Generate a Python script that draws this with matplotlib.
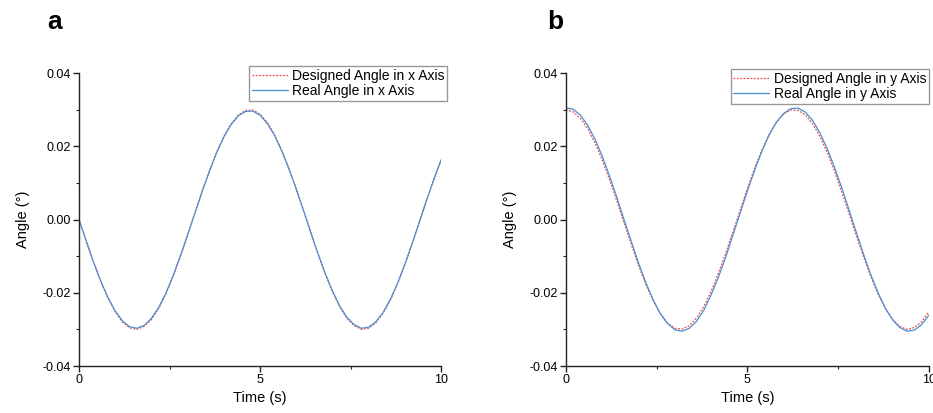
import matplotlib
matplotlib.use("Agg")
import matplotlib.pyplot as plt
from matplotlib.ticker import MultipleLocator, FormatStrFormatter

plt.rcParams['font.family'] = ['Liberation Sans', 'DejaVu Sans']
plt.rcParams['axes.unicode_minus'] = False

# time samples (s)
time = [0.0, 0.2, 0.4, 0.6, 0.8, 1.0, 1.2, 1.4, 1.6, 1.8, 2.0, 2.2, 2.4, 2.6, 2.8,
        3.0, 3.2, 3.4, 3.6, 3.8, 4.0, 4.2, 4.4, 4.6, 4.8, 5.0, 5.2, 5.4, 5.6, 5.8,
        6.0, 6.2, 6.4, 6.6, 6.8, 7.0, 7.2, 7.4, 7.6, 7.8, 8.0, 8.2, 8.4, 8.6, 8.8,
        9.0, 9.2, 9.4, 9.6, 9.8, 10.0]

# panel a: x axis angle
designed_x = [0.0, -0.0060, -0.0117, -0.0169, -0.0215, -0.0252, -0.0280, -0.0296,
              -0.0300, -0.0292, -0.0273, -0.0243, -0.0203, -0.0155, -0.0101, -0.0042,
              0.0018, 0.0077, 0.0133, 0.0184, 0.0227, 0.0261, 0.0285, 0.0298, 0.0299,
              0.0288, 0.0265, 0.0232, 0.0189, 0.0139, 0.0084, 0.0025, -0.0035, -0.0093,
              -0.0148, -0.0197, -0.0238, -0.0270, -0.0290, -0.0300, -0.0297, -0.0282,
              -0.0256, -0.0220, -0.0175, -0.0124, -0.0067, -0.0007, 0.0052, 0.0110,
              0.0163]
real_x = [0.0, -0.0059, -0.0116, -0.0168, -0.0213, -0.0250, -0.0277, -0.0293,
          -0.0297, -0.0289, -0.0270, -0.0240, -0.0201, -0.0153, -0.0099, -0.0042,
          0.0017, 0.0076, 0.0131, 0.0182, 0.0225, 0.0259, 0.0283, 0.0295, 0.0296,
          0.0285, 0.0262, 0.0230, 0.0187, 0.0138, 0.0083, 0.0025, -0.0035, -0.0093,
          -0.0147, -0.0195, -0.0236, -0.0267, -0.0287, -0.0297, -0.0294, -0.0279,
          -0.0254, -0.0218, -0.0174, -0.0122, -0.0066, -0.0007, 0.0052, 0.0109,
          0.0162]

# panel b: y axis angle
designed_y = [0.0300, 0.0294, 0.0276, 0.0248, 0.0209, 0.0162, 0.0109, 0.0051,
              -0.0009, -0.0068, -0.0125, -0.0177, -0.0221, -0.0257, -0.0283, -0.0297,
              -0.0299, -0.0290, -0.0269, -0.0237, -0.0196, -0.0147, -0.0092, -0.0034,
              0.0026, 0.0085, 0.0141, 0.0190, 0.0233, 0.0266, 0.0288, 0.0299, 0.0298,
              0.0285, 0.0261, 0.0226, 0.0183, 0.0132, 0.0075, 0.0016, -0.0044, -0.0102,
              -0.0156, -0.0204, -0.0243, -0.0273, -0.0292, -0.0300, -0.0295, -0.0279,
              -0.0252]
real_y = [0.0305, 0.0301, 0.0285, 0.0257, 0.0219, 0.0173, 0.0119, 0.0061,
          0.0000, -0.0060, -0.0119, -0.0172, -0.0219, -0.0257, -0.0284, -0.0301,
          -0.0305, -0.0297, -0.0278, -0.0247, -0.0206, -0.0158, -0.0103, -0.0043,
          0.0018, 0.0078, 0.0135, 0.0187, 0.0231, 0.0266, 0.0290, 0.0303, 0.0304,
          0.0293, 0.0270, 0.0236, 0.0193, 0.0142, 0.0086, 0.0026, -0.0035, -0.0095,
          -0.0151, -0.0200, -0.0242, -0.0274, -0.0295, -0.0305, -0.0302, -0.0287,
          -0.0261]

panels = [
    ('a', designed_x, real_x, 'Designed Angle in x Axis', 'Real Angle in x Axis'),
    ('b', designed_y, real_y, 'Designed Angle in y Axis', 'Real Angle in y Axis'),
]
axes_pos = [[0.0847, 0.1138, 0.388, 0.7094], [0.6066, 0.1138, 0.389, 0.7094]]
legend_anchor = [(1.017, 1.024), (1.0, 1.014)]
letter_x = [0.051, 0.587]

fig = plt.figure(figsize=(9.33, 4.13), dpi=100)

for i, (letter, des, real, lab_d, lab_r) in enumerate(panels):
    ax = fig.add_axes(axes_pos[i])
    ax.plot(time, des, color='#f24a4a', linestyle=(0, (1.5, 1.2)), linewidth=0.9, label=lab_d)
    ax.plot(time, real, color='#4a8fd4', linestyle='-', linewidth=0.9, label=lab_r)
    ax.set_xlim(0, 10)
    ax.set_ylim(-0.04, 0.04)
    ax.xaxis.set_major_locator(MultipleLocator(5))
    ax.xaxis.set_minor_locator(MultipleLocator(2.5))
    ax.yaxis.set_major_locator(MultipleLocator(0.02))
    ax.yaxis.set_minor_locator(MultipleLocator(0.01))
    ax.yaxis.set_major_formatter(FormatStrFormatter('%.2f'))
    ax.xaxis.set_major_formatter(FormatStrFormatter('%d'))
    for s in ['top', 'right']:
        ax.spines[s].set_visible(False)
    for s in ['left', 'bottom']:
        ax.spines[s].set_linewidth(1.0)
        ax.spines[s].set_color('#222222')
    ax.tick_params(which='major', direction='out', length=4, width=1.0, labelsize=9,
                   color='#222222', pad=2)
    ax.tick_params(which='minor', direction='out', length=2.5, width=0.8, color='#222222')
    ax.set_xlabel('Time (s)', fontsize=10.5, labelpad=3)
    ax.set_ylabel('Angle (°)', fontsize=10.5, labelpad=9)
    leg = ax.legend(loc='upper right', bbox_to_anchor=legend_anchor[i], fontsize=10,
                    frameon=True, fancybox=False, framealpha=1, edgecolor='#999999',
                    handlelength=2.6, handletextpad=0.3, borderpad=0.2,
                    labelspacing=0.1, borderaxespad=0)
    leg.get_frame().set_linewidth(1.0)
    fig.text(letter_x[i], 0.975, letter, fontsize=19, fontweight='bold', va='top', ha='left')

fig.savefig('out.png', dpi=100)
